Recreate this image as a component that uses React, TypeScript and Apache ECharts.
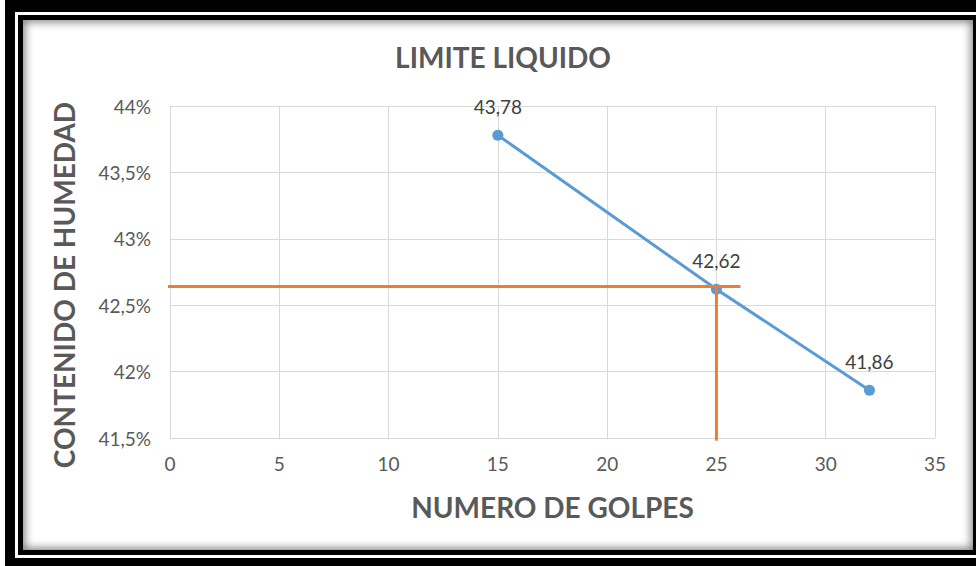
import React, { useEffect, useRef } from "react";
import * as echarts from "echarts";

const golpes = [15, 25, 32];
const humedad = [43.78, 42.62, 41.86];
const guiaHorizontalX = [-2.5, 26.1];
const guiaHorizontalY = [42.64, 42.64];
const guiaVerticalX = [25, 25];
const guiaVerticalY = [42.64, 41.48];
const xTicks = { min: 0, max: 35, interval: 5 };
const yTicks = { min: 41.5, max: 44, interval: 0.5 };

const FONT = "Lato, 'Open Sans', sans-serif";

export default function App() {
  const ref = useRef<HTMLDivElement>(null);
  useEffect(() => {
    document.body.style.margin = "0";
    const chart = echarts.init(ref.current!, undefined, { renderer: "svg" });
    const fmt = (v: number) => String(v).replace(".", ",");
    chart.setOption({
      animation: false,
      textStyle: { fontFamily: FONT },
      title: {
        text: "LIMITE LIQUIDO",
        left: 498,
        textAlign: "center",
        top: 38,
        textStyle: { fontFamily: FONT, fontSize: 28, fontWeight: "bold", color: "#595959" },
      },
      grid: { left: 170, top: 106, right: 41, bottom: 128, containLabel: false },
      xAxis: {
        type: "value",
        min: xTicks.min,
        max: xTicks.max,
        interval: xTicks.interval,
        name: "NUMERO DE GOLPES",
        nameLocation: "middle",
        nameGap: 55,
        nameTextStyle: { fontFamily: FONT, fontSize: 28, fontWeight: "bold", color: "#595959" },
        axisLine: { show: true, lineStyle: { color: "#d9d9d9", width: 1 } },
        axisTick: { show: false },
        axisLabel: { color: "#595959", fontSize: 19, fontFamily: FONT, margin: 16 },
        splitLine: { show: true, lineStyle: { color: "#d9d9d9", width: 1 } },
      },
      yAxis: {
        type: "value",
        min: yTicks.min,
        max: yTicks.max,
        interval: yTicks.interval,
        name: "CONTENIDO DE HUMEDAD",
        nameLocation: "middle",
        nameGap: 92,
        nameRotate: 90,
        nameTextStyle: {
          fontFamily: FONT,
          fontSize: 28,
          fontWeight: "bold",
          color: "#595959",
          padding: [0, 26, 0, 0],
        },
        axisLine: { show: false },
        axisTick: { show: false },
        axisLabel: {
          color: "#595959",
          fontSize: 19,
          fontFamily: FONT,
          margin: 19,
          formatter: (v: number) => fmt(v) + "%",
        },
        splitLine: { show: true, lineStyle: { color: "#d9d9d9", width: 1 } },
      },
      series: [
        {
          type: "line",
          data: golpes.map((g, i) => [g, humedad[i]]),
          symbol: "circle",
          symbolSize: 11,
          itemStyle: { color: "#5B9BD5" },
          lineStyle: { color: "#5B9BD5", width: 3 },
          label: {
            show: true,
            position: "top",
            distance: 14,
            color: "#404040",
            fontSize: 19,
            fontFamily: FONT,
            formatter: (p: any) => p.value[1].toFixed(2).replace(".", ","),
          },
          z: 2,
        },
        {
          type: "line",
          data: guiaHorizontalX.map((x, i) => [x, guiaHorizontalY[i]]),
          symbol: "none",
          clip: false,
          lineStyle: { color: "#ED7D31", width: 3 },
          z: 3,
        },
        {
          type: "line",
          data: guiaVerticalX.map((x, i) => [x, guiaVerticalY[i]]),
          symbol: "none",
          clip: false,
          lineStyle: { color: "#ED7D31", width: 3 },
          z: 3,
        },
      ],
    });
    return () => chart.dispose();
  }, []);

  return (
    <div style={{ position: "fixed", left: 0, top: 0, width: 976, height: 566, overflow: "hidden", background: "#fff" }}>
      <div
        style={{
          position: "absolute",
          left: 5,
          top: 0,
          width: 981,
          height: 570,
          boxSizing: "border-box",
          borderStyle: "solid",
          borderColor: "#000",
          borderWidth: "12px 10px 12px 10px",
        }}
      />
      <div
        style={{
          position: "absolute",
          left: 18,
          top: 15,
          width: 960,
          height: 540,
          boxSizing: "border-box",
          border: "5px solid #000",
          boxShadow: "inset 0 0 8px 2px rgba(0,0,0,0.5)",
          background: "#fff",
        }}
      />
      <div ref={ref} style={{ position: "absolute", left: 0, top: 0, width: 976, height: 566 }} />
    </div>
  );
}
